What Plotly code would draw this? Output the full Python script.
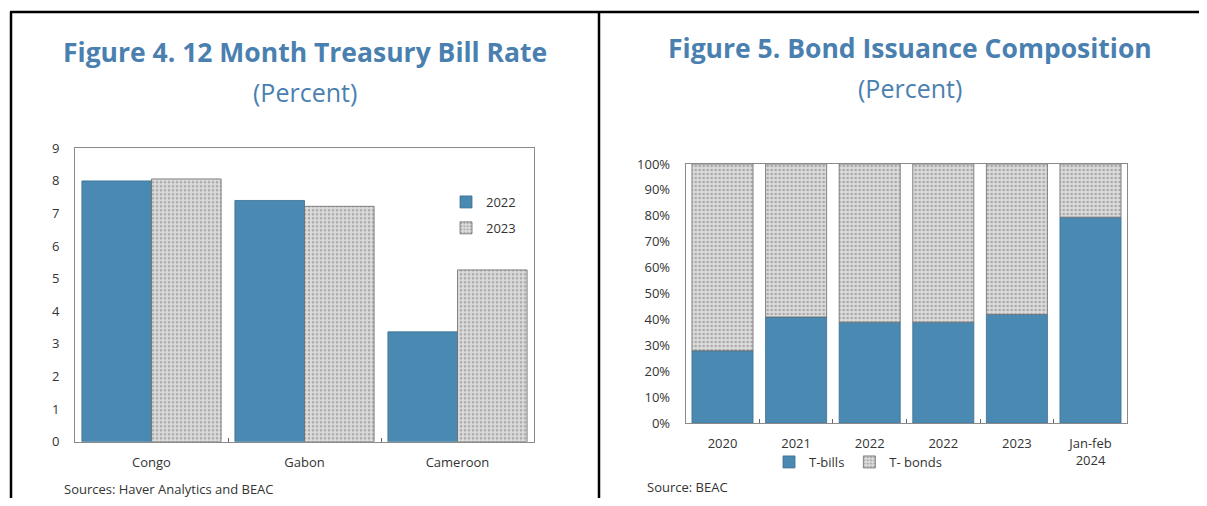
import plotly.graph_objects as go

# Figure 4 data
countries = ["Congo", "Gabon", "Cameroon"]
rate_2022 = [8.0, 7.4, 3.37]
rate_2023 = [8.06, 7.22, 5.27]

# Figure 5 data
periods = ["2020", "2021", "2022", "2022", "2023", "Jan-feb<br>2024"]
t_bills = [28, 41, 39, 39, 42, 79.5]
t_bonds = [72, 59, 61, 61, 58, 20.5]

BLUE = "#4a89b1"
GRAY = "#cdcdcd"
TITLE_BLUE = "#4a80b0"
TXT = "#333333"
FONT = "Open Sans"

# page has an 8px body margin; size the figure so the page does not scroll
OFF = 8
W, H = 1207 - OFF, 506 - 2 * OFF


def px(x):
    return (x - OFF) / W


def py(y):
    return 1 - (y - OFF) / H


gray_pattern = dict(shape=".", bgcolor="#dcdcdc", fgcolor="#a9a9a9", size=4, solidity=0.35)

fig = go.Figure()

fig.add_trace(go.Bar(
    x=countries, y=rate_2022, name="2022", xaxis="x", yaxis="y",
    marker=dict(color=BLUE, line=dict(color="#3c6f90", width=0.8)),
    offsetgroup="a", legend="legend", legendgroup="a",
))
fig.add_trace(go.Bar(
    x=countries, y=rate_2023, name="2023", xaxis="x", yaxis="y",
    marker=dict(color=GRAY, pattern=gray_pattern, line=dict(color="#6a6a6a", width=0.8)),
    offsetgroup="b", legend="legend", legendgroup="b",
))

# stacked bars on the right plot (same offset group, bonds sit on top of bills)
xpos = list(range(len(periods)))
fig.add_trace(go.Bar(
    x=xpos, y=t_bills, name="T-bills", xaxis="x2", yaxis="y2",
    width=0.83, offset=-0.415, offsetgroup="r",
    marker=dict(color=BLUE, line=dict(color="#3c6f90", width=0.8)),
    legend="legend2",
))
fig.add_trace(go.Bar(
    x=xpos, y=t_bonds, base=t_bills, name="T- bonds", xaxis="x2", yaxis="y2",
    width=0.83, offset=-0.415, offsetgroup="r",
    marker=dict(color=GRAY, pattern=gray_pattern, line=dict(color="#6a6a6a", width=0.8)),
    legend="legend2",
))

axis_common = dict(
    showline=True, mirror=True, linecolor="#8a8a8a", linewidth=1,
    showgrid=False, zeroline=False, automargin=False,
    tickfont=dict(family=FONT, size=13, color=TXT),
)

fig.update_layout(
    template="none",
    width=W, height=H,
    margin=dict(l=0, r=0, t=0, b=0, pad=0),
    paper_bgcolor="white", plot_bgcolor="white",
    barmode="group", bargap=0.09, bargroupgap=0,
    font=dict(family=FONT, color=TXT, size=13),
    xaxis=dict(domain=[px(75), px(534)], anchor="y",
               ticks="inside", tickson="boundaries", ticklen=4, tickcolor="#666",
               ticklabelstandoff=9, **axis_common),
    yaxis=dict(domain=[py(441.7), py(148.3)], anchor="x",
               range=[0, 9], dtick=1, ticks="", ticklabelstandoff=12, **axis_common),
    xaxis2=dict(domain=[px(685.7), px(1127.3)], anchor="y2",
                range=[-0.5, len(periods) - 0.5],
                tickmode="array", tickvals=xpos, ticktext=periods,
                ticks="", ticklabelstandoff=8,
                minor=dict(tickmode="array", tickvals=[i + 0.5 for i in xpos[:-1]],
                           ticks="inside", ticklen=4, tickcolor="#666"),
                **axis_common),
    yaxis2=dict(domain=[py(423.3), py(164)], anchor="x2",
                range=[0, 100], dtick=10, ticksuffix="%", ticks="",
                ticklabelstandoff=12, **axis_common),
    legend=dict(x=px(446), y=py(187), xanchor="left", yanchor="top",
                orientation="v", tracegroupgap=6, bgcolor="rgba(0,0,0,0)",
                font=dict(family=FONT, size=13, color=TXT)),
    legend2=dict(x=px(858), y=py(447), xanchor="center", yanchor="top",
                 orientation="h", bgcolor="rgba(0,0,0,0)",
                 font=dict(family=FONT, size=13, color=TXT)),
)

annotations = [
    dict(text="<b>Figure 4. 12 Month Treasury Bill Rate</b>", x=px(305), y=py(52),
         font=dict(family=FONT, size=26.5, color=TITLE_BLUE)),
    dict(text="(Percent)", x=px(305), y=py(92),
         font=dict(family=FONT, size=25, color=TITLE_BLUE)),
    dict(text="<b>Figure 5. Bond Issuance Composition</b>", x=px(910), y=py(48),
         font=dict(family=FONT, size=26.5, color=TITLE_BLUE)),
    dict(text="(Percent)", x=px(910), y=py(88),
         font=dict(family=FONT, size=25, color=TITLE_BLUE)),
    dict(text="Sources: Haver Analytics and BEAC", x=px(62), y=py(489), xanchor="left",
         font=dict(family=FONT, size=13, color=TXT)),
    dict(text="Source: BEAC", x=px(645), y=py(487), xanchor="left",
         font=dict(family=FONT, size=13, color=TXT)),
]
for a in annotations:
    a.setdefault("xanchor", "center")
    fig.add_annotation(xref="paper", yref="paper", yanchor="middle", showarrow=False, **a)

# panel frame lines
for x0, y0, x1, y1 in [(10, 12, 1207, 12), (11, 12, 11, 506), (599, 12, 599, 506)]:
    fig.add_shape(type="line", xref="paper", yref="paper",
                  x0=px(x0), y0=py(y0), x1=px(x1), y1=py(y1),
                  line=dict(color="black", width=2.5))

fig.write_html("out.html")
